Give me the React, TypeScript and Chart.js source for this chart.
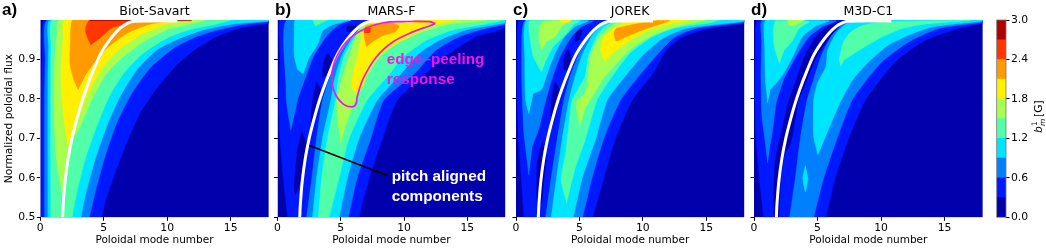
import React, { useEffect, useRef } from "react";
import { Chart, registerables } from "chart.js";

Chart.register(...registerables);

type P = [number, number];

const levelColors = ["#0000ac", "#0019ff", "#0080ff", "#00e5ff", "#50ffa8", "#a8ff50", "#fff000", "#ff9a00", "#ff3600", "#b20000"];
const colorbarLevels = [0.3, 0.3, 0.3, 0.3, 0.3, 0.3, 0.3, 0.3, 0.3, 0.3];
const colorbarTicks = [0, 0.6, 1.2, 1.8, 2.4, 3.0];
const modeTicks = [0, 5, 10, 15];
const fluxTicks = [0.5, 0.6, 0.7, 0.8, 0.9];
const panelTitles = ["Biot-Savart", "MARS-F", "JOREK", "M3D-C1"];

const fullField: P[] = [[0, 0.5], [18, 0.5], [18, 1], [0, 1]];

const resonance: P[] = [[1.76, 0.5], [1.8, 0.53], [1.95, 0.59], [2.2, 0.65], [2.5, 0.7], [2.81, 0.74], [3.2, 0.785], [3.6, 0.824], [4.15, 0.87], [4.7, 0.911], [5.3, 0.942], [5.88, 0.966], [6.4, 0.982], [6.9, 0.992], [7.4, 0.997], [8.5, 0.9978], [10.8, 0.9978]];

// Panel a: Biot-Savart
const a1: P[] = [[0.08, 0.5], [0.08, 0.8], [0.15, 0.9], [0.34, 1], [18, 1], [18, 0.9916], [15.73, 0.979], [13.9, 0.958], [12.32, 0.928], [10.74, 0.886], [9.17, 0.827], [7.85, 0.764], [6.8, 0.688], [5.88, 0.611], [5.23, 0.552], [4.83, 0.5]];
const a2: P[] = [[0.34, 0.5], [0.34, 0.8], [0.4, 0.9], [0.6, 1], [18, 1], [18, 0.996], [16.26, 0.99], [14.16, 0.976], [12.32, 0.958], [10.48, 0.928], [8.64, 0.878], [7.2, 0.814], [6.01, 0.738], [5.1, 0.654], [4.31, 0.561], [3.86, 0.5]];
const a3: P[] = [[0.6, 0.5], [0.6, 0.85], [0.65, 0.93], [0.79, 1], [18, 1], [18, 0.9975], [15.2, 0.99], [12.85, 0.975], [11, 0.954], [9.17, 0.924], [7.59, 0.873], [6.28, 0.806], [5.23, 0.73], [4.31, 0.645], [3.52, 0.552], [3.2, 0.5]];
const a4: P[] = [[0.84, 0.5], [0.82, 0.83], [0.85, 0.93], [1.0, 1], [15, 1], [13.9, 0.99], [11.8, 0.976], [9.96, 0.954], [8.12, 0.916], [6.67, 0.869], [5.49, 0.81], [4.44, 0.73], [3.52, 0.645], [2.92, 0.569], [2.5, 0.5]];
const a5: P[] = [[1.75, 0.56], [1.5, 0.6], [1.25, 0.65], [1.13, 0.72], [1.07, 0.8], [1.13, 0.9], [1.3, 0.96], [1.5, 1], [13, 1], [12.06, 0.9916], [9.96, 0.975], [8.12, 0.945], [6.54, 0.907], [5.23, 0.865], [4.18, 0.806], [3.13, 0.73], [2.34, 0.68], [1.95, 0.59]];
const a6: P[] = [[2.2, 0.68], [1.95, 0.73], [1.7, 0.8], [1.63, 0.87], [1.8, 0.95], [1.95, 1], [11.3, 1], [9.69, 0.987], [7.85, 0.962], [6.15, 0.924], [4.96, 0.882], [3.91, 0.823], [2.81, 0.738]];
const a7: P[] = [[2.99, 0.824], [2.65, 0.848], [2.34, 0.89], [2.39, 0.95], [2.6, 1], [10.2, 1], [8.38, 0.987], [6.8, 0.966], [5.23, 0.928], [4.31, 0.894], [3.65, 0.865]];
const a8: P[] = [[3.97, 0.937], [3.6, 0.966], [3.58, 0.98], [3.9, 1], [7.33, 0.998], [5.62, 0.979], [4.7, 0.954]];
const a9: P[] = [[3.9, 1], [11.9, 1], [11.9, 0.9985], [3.9, 0.9985]];

// Panel b: MARS-F
const b1: P[] = [[0.8, 0.5], [0.46, 0.6], [0.2, 0.7], [0.1, 0.797], [0.2, 0.9], [0.2, 1], [18, 1], [17.9, 0.979], [15.7, 0.958], [13.6, 0.916], [12, 0.873], [9.47, 0.797], [8.3, 0.7], [7.24, 0.599], [6.45, 0.5]];
const bDark1: P[] = [[1.93, 0.719], [1.59, 0.67], [1.33, 0.586], [1.4, 0.557], [1.77, 0.586], [2.1, 0.654], [2.3, 0.687]];
const bDark2: P[] = [[3.1, 0.845], [2.8, 0.8], [2.65, 0.74], [2.85, 0.735], [3.2, 0.78], [3.5, 0.82]];
const bDark3: P[] = [[3.55, 0.855], [3.6, 0.885], [3.95, 0.915], [4.3, 0.9], [4.0, 0.86]];
const bDark4: P[] = [[5.5, 0.97], [5.5, 0.985], [6.2, 0.985], [6.1, 0.97]];
const b2Left: P[] = [[1.06, 0.72], [0.72, 0.79], [0.67, 0.833], [0.72, 1], [5.6, 1], [4.8, 0.987], [3.9, 0.96], [2.84, 0.907], [2.05, 0.84], [1.6, 0.8], [1.35, 0.76]];
const b3Left: P[] = [[2.04, 0.863], [1.6, 0.875], [1.33, 0.91], [1.33, 0.98], [1.4, 1], [5.8, 1], [4.35, 0.988], [3.56, 0.972], [3.2, 0.94], [2.5, 0.905]];
const b4Left: P[] = [[2.8, 1], [3, 0.985], [3.4, 0.992], [4, 1]];
const b2Right: P[] = [[2.3, 0.5], [2.72, 0.6], [3.09, 0.7], [3.56, 0.797], [4.3, 0.87], [5.0, 0.92], [5.8, 0.96], [6.8, 0.99], [7.6, 1], [18, 1], [18, 0.99], [16.5, 0.979], [14.4, 0.958], [12.55, 0.924], [10.85, 0.865], [8.4, 0.797], [7.37, 0.7], [6.3, 0.6], [5.6, 0.5]];
const b3Right: P[] = [[2.77, 0.5], [3.09, 0.6], [3.56, 0.7], [4.22, 0.797], [4.5, 0.85], [5.1, 0.91], [6, 0.96], [7, 0.99], [7.8, 1], [18, 1], [18, 0.993], [14.9, 0.975], [12.8, 0.949], [11.2, 0.916], [9.8, 0.865], [7.9, 0.797], [6.45, 0.7], [5.53, 0.6], [4.87, 0.5]];
const b4Right: P[] = [[3.24, 0.5], [3.5, 0.6], [3.95, 0.7], [4.6, 0.797], [4.8, 0.85], [5.3, 0.91], [6.2, 0.96], [7.1, 0.985], [8, 1], [18, 1], [16.5, 0.99], [13.87, 0.975], [11.77, 0.949], [9.93, 0.907], [8.9, 0.865], [7.1, 0.797], [5.66, 0.7], [4.87, 0.6], [4.08, 0.5]];
const b5: P[] = [[5.02, 0.688], [4.74, 0.746], [4.7, 0.797], [5.07, 0.848], [6, 0.941], [6.5, 0.979], [7.5, 1], [16.5, 1], [15.7, 0.996], [13.6, 0.99], [11.5, 0.97], [9.67, 0.945], [8.09, 0.907], [7.04, 0.856], [6.3, 0.806], [5.8, 0.77], [5.35, 0.73]];
const b6: P[] = [[5.85, 0.825], [5.95, 0.86], [6.35, 0.91], [6.65, 0.96], [7, 0.985], [7.5, 1], [14, 1], [13.1, 0.993], [11.8, 0.983], [10.45, 0.958], [8.9, 0.932], [7.4, 0.89], [6.76, 0.833], [6.3, 0.815]];
const b7: P[] = [[7.03, 0.932], [6.84, 0.96], [7, 0.985], [7.8, 0.99], [9, 0.993], [9.6, 0.985], [9.3, 0.97], [8.3, 0.96], [7.76, 0.95]];
const b8: P[] = [[6.85, 0.967], [6.9, 0.98], [7.37, 0.98], [7.3, 0.967]];
const peeling: P[] = [[12.48, 0.991], [12, 0.996], [9.93, 0.996], [8.35, 0.993], [7, 0.979], [5.73, 0.954], [4.68, 0.907], [4.28, 0.856], [4.54, 0.814], [5.2, 0.787], [5.86, 0.78], [6.2, 0.787], [6.3, 0.806], [6.78, 0.852], [7.83, 0.907], [9.14, 0.945], [10.7, 0.97], [12, 0.985], [12.48, 0.991]];
const pitchPointer: P[] = [[2.52, 0.682], [8.67, 0.606]];

// Panel c: JOREK
const c1: P[] = [[0.63, 0.5], [0.42, 0.6], [0.2, 0.7], [0.1, 0.8], [0.1, 0.9], [0.3, 1], [18, 1], [18, 0.992], [15.3, 0.979], [13.2, 0.958], [11.87, 0.924], [10.8, 0.865], [9.17, 0.797], [7.85, 0.7], [6.93, 0.6], [6.07, 0.5]];
const cDark1: P[] = [[2.07, 0.692], [1.68, 0.637], [1.63, 0.56], [1.73, 0.527], [1.99, 0.535], [2.2, 0.595], [2.42, 0.654]];
const cDark2: P[] = [[3.1, 0.845], [2.8, 0.8], [2.75, 0.75], [2.85, 0.73], [3.2, 0.77], [3.5, 0.82]];
const cDark3: P[] = [[3.75, 0.875], [3.8, 0.9], [4.1, 0.925], [4.35, 0.9], [4.1, 0.87]];
const cDark4: P[] = [[4.65, 0.945], [4.75, 0.97], [5.15, 0.975], [5.05, 0.95]];
const c2Left: P[] = [[1.02, 0.607], [0.63, 0.713], [0.5, 0.797], [0.45, 0.9], [0.76, 1], [6.1, 0.998], [5.17, 0.983], [4.39, 0.958], [3.47, 0.907], [2.81, 0.848], [2.3, 0.79], [1.8, 0.725], [1.29, 0.68]];
const c3Left: P[] = [[1.02, 0.762], [0.76, 0.797], [0.7, 0.9], [0.85, 1], [5.7, 0.998], [4.65, 0.983], [3.86, 0.958], [3.2, 0.924], [2.55, 0.873], [2.0, 0.823], [1.37, 0.814]];
const c4Left: P[] = [[2.02, 0.869], [1.37, 0.907], [1.05, 0.966], [1.1, 0.998], [5.04, 0.998], [4.5, 0.987], [4, 0.966], [2.94, 0.932], [2.4, 0.9]];
const c5Left: P[] = [[2.02, 0.924], [1.84, 0.949], [1.84, 0.975], [2.15, 0.996], [4.12, 0.998], [3.6, 0.983], [3.07, 0.958], [2.42, 0.945]];
const c6Left: P[] = [[3.47, 1], [3.6, 0.993], [4.2, 0.995], [4.4, 1]];
const c2Right: P[] = [[2.34, 0.5], [2.78, 0.6], [3.26, 0.7], [3.78, 0.797], [4.2, 0.85], [4.9, 0.91], [5.7, 0.96], [6.6, 0.99], [7.4, 1], [18, 1], [18, 0.995], [14.2, 0.979], [12.4, 0.954], [11.35, 0.92], [10, 0.87], [8.25, 0.797], [6.93, 0.7], [6.0, 0.6], [5.25, 0.5]];
const c3Right: P[] = [[2.78, 0.5], [3.2, 0.6], [3.65, 0.7], [4.18, 0.797], [4.6, 0.85], [5.2, 0.91], [6, 0.96], [6.9, 0.99], [7.7, 1], [18, 1], [18, 0.997], [13.45, 0.979], [11.6, 0.954], [10, 0.911], [8.7, 0.861], [7.2, 0.797], [6.3, 0.7], [5.23, 0.6], [4.52, 0.5]];
const c4Right: P[] = [[4, 0.535], [3.57, 0.595], [3.9, 0.66], [4.2, 0.74], [4.44, 0.797], [5.44, 0.856], [5.7, 0.907], [6.36, 0.958], [7, 0.983], [7.9, 0.996], [16, 1], [15.3, 0.993], [12.4, 0.979], [10.56, 0.954], [8.98, 0.916], [7.67, 0.861], [6.4, 0.797], [5.49, 0.7], [4.7, 0.628], [4.44, 0.595]];
const c5Right: P[] = [[5.04, 0.73], [4.8, 0.772], [4.83, 0.797], [5.44, 0.814], [5.7, 0.856], [5.83, 0.907], [6.6, 0.958], [7.3, 0.979], [8.2, 0.996], [15, 1], [14.5, 0.996], [12.66, 0.983], [10.8, 0.962], [9.25, 0.932], [7.93, 0.89], [6.9, 0.852], [6.1, 0.81], [5.5, 0.78]];
const c6Right: P[] = [[7, 0.896], [6.67, 0.924], [6.9, 0.954], [7.54, 0.975], [8.46, 0.992], [8.8, 1], [13.6, 1], [12.66, 0.993], [10.8, 0.979], [9.25, 0.954], [7.93, 0.924]];
const c7Right: P[] = [[7.88, 0.947], [7.72, 0.966], [7.93, 0.979], [9.5, 0.99], [11.1, 0.998], [12.1, 0.998], [11.6, 0.992], [10, 0.975], [8.72, 0.958], [8.0, 0.947]];

// Panel d: M3D-C1
const d1: P[] = [[0.76, 0.5], [0.42, 0.6], [0.16, 0.7], [0.08, 0.8], [0.1, 0.9], [0.3, 1], [18, 1], [18, 0.992], [16.18, 0.979], [13.5, 0.949], [11.3, 0.9], [10.1, 0.855], [8.77, 0.797], [7.46, 0.7], [6.4, 0.6], [5.67, 0.5]];
const dDark: P[] = [[1.6, 0.5], [1.55, 0.57], [1.7, 0.65], [2.2, 0.72], [2.7, 0.79], [3.3, 0.844], [3.97, 0.907], [4.9, 0.958], [5.8, 0.983], [6.86, 0.998], [7.4, 0.998], [6.7, 0.983], [6.0, 0.958], [4.9, 0.907], [4.1, 0.844], [3.5, 0.797], [3.3, 0.76], [2.9, 0.69], [2.4, 0.66], [2.1, 0.6], [1.95, 0.5]];
const d2Left: P[] = [[1.08, 0.637], [0.85, 0.7], [0.63, 0.755], [0.55, 0.85], [0.6, 0.95], [0.66, 1], [6.46, 0.998], [5.4, 0.983], [4.36, 0.958], [3.3, 0.907], [2.35, 0.85], [1.75, 0.79], [1.5, 0.73], [1.29, 0.687]];
const d3Left: P[] = [[1.08, 0.789], [0.9, 0.85], [0.85, 0.93], [0.95, 1], [5.9, 0.998], [4.9, 0.985], [3.83, 0.958], [3.05, 0.907], [2.26, 0.861], [1.86, 0.844], [1.3, 0.825]];
const d4Left: P[] = [[2.0, 0.89], [1.6, 0.932], [1.52, 0.975], [1.73, 0.998], [4.36, 0.996], [3.57, 0.979], [3.05, 0.949], [2.4, 0.924]];
const d5Left: P[] = [[2.65, 1], [2.7, 0.99], [2.95, 0.985], [3.5, 0.992], [4.0, 1]];
const d2Right: P[] = [[2.81, 0.5], [3.26, 0.6], [3.65, 0.7], [4.18, 0.797], [4.7, 0.85], [5.3, 0.91], [6.1, 0.96], [7, 0.99], [7.6, 1], [18, 1], [18, 0.995], [14.6, 0.979], [12.2, 0.945], [10.1, 0.895], [8.9, 0.85], [7.72, 0.797], [6.54, 0.7], [5.49, 0.6], [4.7, 0.5]];
const d3Right: P[] = [[5.04, 0.658], [4.7, 0.704], [4.7, 0.797], [5.0, 0.84], [5.67, 0.882], [5.8, 0.924], [6.46, 0.966], [7.25, 0.99], [8.3, 1], [18, 1], [17.9, 0.997], [14.08, 0.983], [12.2, 0.962], [10.5, 0.935], [8.9, 0.89], [7.8, 0.85], [6.88, 0.797], [6.28, 0.755], [5.75, 0.713]];
const d4Right: P[] = [[6.86, 0.882], [6.72, 0.899], [7, 0.941], [7.5, 0.966], [8.3, 0.983], [9.88, 0.995], [17, 0.999], [16.2, 0.997], [13.55, 0.99], [11.7, 0.979], [9.88, 0.954], [8.3, 0.924], [7.1, 0.899]];
const dBlob: P[] = [[4.05, 0.632], [3.84, 0.599], [4.05, 0.565], [4.26, 0.599]];

type Layer = { pts: P[]; level: number };
const panelLayers: Layer[][] = [
  [{ pts: fullField, level: 0 }, { pts: a1, level: 1 }, { pts: a2, level: 2 }, { pts: a3, level: 3 }, { pts: a4, level: 4 }, { pts: a5, level: 5 }, { pts: a6, level: 6 }, { pts: a7, level: 7 }, { pts: a8, level: 8 }, { pts: a9, level: 9 }],
  [{ pts: fullField, level: 0 }, { pts: b1, level: 1 }, { pts: bDark1, level: 0 }, { pts: bDark2, level: 0 }, { pts: bDark3, level: 0 }, { pts: bDark4, level: 0 }, { pts: b2Left, level: 2 }, { pts: b2Right, level: 2 }, { pts: b3Left, level: 3 }, { pts: b3Right, level: 3 }, { pts: b4Left, level: 4 }, { pts: b4Right, level: 4 }, { pts: b5, level: 5 }, { pts: b6, level: 6 }, { pts: b7, level: 7 }, { pts: b8, level: 8 }],
  [{ pts: fullField, level: 0 }, { pts: c1, level: 1 }, { pts: cDark1, level: 0 }, { pts: cDark2, level: 0 }, { pts: cDark3, level: 0 }, { pts: cDark4, level: 0 }, { pts: c2Left, level: 2 }, { pts: c2Right, level: 2 }, { pts: c3Left, level: 3 }, { pts: c3Right, level: 3 }, { pts: c4Left, level: 4 }, { pts: c4Right, level: 4 }, { pts: c5Left, level: 5 }, { pts: c5Right, level: 5 }, { pts: c6Left, level: 6 }, { pts: c6Right, level: 6 }, { pts: c7Right, level: 7 }],
  [{ pts: fullField, level: 0 }, { pts: d1, level: 1 }, { pts: dDark, level: 0 }, { pts: d2Left, level: 2 }, { pts: d2Right, level: 2 }, { pts: dBlob, level: 3 }, { pts: d3Left, level: 3 }, { pts: d3Right, level: 3 }, { pts: d4Left, level: 4 }, { pts: d4Right, level: 4 }, { pts: d5Left, level: 5 }],
];

const SANS = "'DejaVu Sans', sans-serif";
const ARIAL = "'Liberation Sans', Arial, sans-serif";
const MAGENTA = "#f414e4";
const H = 249;
const TOP = 20;
const BOTTOM = 217.3;

type Frame = { canvasX: number; canvasW: number; left: number; right: number; letter: string; letterX: number };
const frames: Frame[] = [
  { canvasX: 0, canvasW: 272, left: 40.3, right: 268.7, letter: "a)", letterX: 2 },
  { canvasX: 271, canvasW: 239, left: 277.5, right: 505.3, letter: "b)", letterX: 275 },
  { canvasX: 510, canvasW: 238, left: 516, right: 744.3, letter: "c)", letterX: 513 },
  { canvasX: 748, canvasW: 238, left: 754, right: 982.7, letter: "d)", letterX: 751 },
];

type Note = { text: string; x: number; y: number; font: string; color: string };

const notesPlugin = {
  id: "notes",
  afterDraw(chart: any, _a: any, opts: any) {
    const { ctx } = chart;
    for (const n of (opts.items || []) as Note[]) {
      ctx.save();
      ctx.font = n.font;
      ctx.fillStyle = n.color;
      ctx.textBaseline = "alphabetic";
      ctx.textAlign = "left";
      ctx.fillText(n.text, n.x, n.y);
      ctx.restore();
    }
  },
};

function xy(p: P[]) {
  return p.map(([x, y]) => ({ x, y }));
}

function panelConfig(i: number): any {
  const f = frames[i];
  const yWidth = f.left - f.canvasX;
  const datasets: any[] = panelLayers[i].map((l) => ({
    data: xy(l.pts),
    showLine: true,
    pointRadius: 0,
    fill: "shape",
    backgroundColor: levelColors[l.level],
    borderColor: levelColors[l.level],
    borderWidth: 0.5,
    tension: 0.2,
  }));
  datasets.push({ data: xy(resonance), showLine: true, pointRadius: 0, fill: false, borderColor: "#ffffff", borderWidth: 3, tension: 0.3 });
  if (i === 1) {
    datasets.push({ data: xy(peeling), showLine: true, pointRadius: 0, fill: false, borderColor: MAGENTA, borderWidth: 1.7, tension: 0.35 });
    datasets.push({ data: xy(pitchPointer), showLine: true, pointRadius: 0, fill: false, borderColor: "#000000", borderWidth: 1.5, tension: 0 });
  }
  datasets.reverse();
  const notes: Note[] = [{ text: f.letter, x: f.letterX - f.canvasX, y: 15, font: `bold 17px ${ARIAL}`, color: "#000" }];
  if (i === 1) {
    const nf = `bold 15.3px ${ARIAL}`;
    notes.push({ text: "edge\u2013peeling", x: 386.7 - f.canvasX, y: 63.5, font: nf, color: MAGENTA });
    notes.push({ text: "response", x: 386.7 - f.canvasX, y: 83.5, font: nf, color: MAGENTA });
    notes.push({ text: "pitch aligned", x: 391.7 - f.canvasX, y: 181, font: nf, color: "#ffffff" });
    notes.push({ text: "components", x: 391.7 - f.canvasX, y: 200.5, font: nf, color: "#ffffff" });
  }
  return {
    type: "scatter",
    data: { datasets },
    plugins: [notesPlugin],
    options: {
      animation: false,
      responsive: false,
      layout: { padding: { left: 0, right: f.canvasX + f.canvasW - f.right, top: 0, bottom: 0 } },
      plugins: {
        legend: { display: false },
        tooltip: { enabled: false },
        title: { display: true, fullSize: false, text: panelTitles[i], color: "#000", font: { family: SANS, size: 12.6, weight: "normal" }, padding: { top: 3.9, bottom: 1 } },
        notes: { items: notes },
      },
      scales: {
        x: {
          type: "linear",
          min: 0,
          max: 18,
          afterBuildTicks: (s: any) => { s.ticks = modeTicks.map((value) => ({ value })); },
          afterFit: (s: any) => { s.height = H - BOTTOM; },
          border: { display: false },
          grid: { drawOnChartArea: false, drawTicks: true, tickLength: 3.5, color: "#000" },
          ticks: { color: "#000", font: { family: SANS, size: 10.8 }, padding: 1, maxRotation: 0, autoSkip: false },
          title: { display: true, text: "Poloidal mode number", color: "#000", font: { family: SANS, size: 10.5 }, padding: { top: 0, bottom: 2 } },
        },
        y: {
          type: "linear",
          min: 0.5,
          max: 1,
          afterBuildTicks: (s: any) => { s.ticks = fluxTicks.map((value) => ({ value })); },
          afterFit: (s: any) => { s.width = yWidth; },
          border: { display: false },
          grid: { drawOnChartArea: false, drawTicks: true, tickLength: 3.5, color: "#000" },
          ticks: { color: "#000", font: { family: SANS, size: 10.8 }, padding: 1.5, autoSkip: false, display: i === 0, callback: (v: number) => v.toFixed(1) },
          title: { display: i === 0, text: "Normalized poloidal flux", color: "#000", font: { family: SANS, size: 10.7 }, padding: { top: 2.5, bottom: 0 } },
        },
      },
    },
  };
}

const colorbarLabelPlugin = {
  id: "cbLabel",
  afterDraw(chart: any) {
    const { ctx, chartArea: a } = chart;
    ctx.save();
    ctx.strokeStyle = "#777";
    ctx.lineWidth = 0.8;
    ctx.strokeRect(a.left, a.top, a.right - a.left, a.bottom - a.top);
    ctx.translate(52, 133);
    ctx.rotate(-Math.PI / 2);
    ctx.fillStyle = "#000";
    ctx.textBaseline = "alphabetic";
    ctx.font = `italic 10.7px ${SANS}`;
    ctx.fillText("b", 0, 0);
    ctx.font = `7.5px ${SANS}`;
    ctx.fillText("1", 7, -4.8);
    ctx.font = `italic 7.5px ${SANS}`;
    ctx.fillText("m", 7, 2.5);
    ctx.font = `10.7px ${SANS}`;
    ctx.fillText("[G]", 16, 0);
    ctx.restore();
  },
};

function colorbarConfig(): any {
  return {
    type: "bar",
    data: {
      labels: ["b"],
      datasets: colorbarLevels.map((v, i) => ({ data: [v], backgroundColor: levelColors[i], barPercentage: 1, categoryPercentage: 1, borderWidth: 0 })),
    },
    plugins: [colorbarLabelPlugin],
    options: {
      animation: false,
      responsive: false,
      layout: { padding: { left: 6.7, top: TOP, bottom: H - BOTTOM, right: 0 } },
      plugins: { legend: { display: false }, tooltip: { enabled: false } },
      scales: {
        x: { stacked: true, display: false },
        y: {
          stacked: true,
          position: "right",
          min: 0,
          max: 3,
          afterBuildTicks: (s: any) => { s.ticks = colorbarTicks.map((value) => ({ value })); },
          afterFit: (s: any) => { s.width = 40; },
          border: { display: false },
          grid: { drawOnChartArea: false, drawTicks: true, tickLength: 3.5, color: "#000" },
          ticks: { color: "#000", font: { family: SANS, size: 10.8 }, padding: 1.5, callback: (v: number) => v.toFixed(1) },
        },
      },
    },
  };
}

export default function App() {
  const refs = useRef<(HTMLCanvasElement | null)[]>([]);
  useEffect(() => {
    const charts = [
      ...frames.map((_, i) => new Chart(refs.current[i] as HTMLCanvasElement, panelConfig(i))),
      new Chart(refs.current[4] as HTMLCanvasElement, colorbarConfig()),
    ];
    return () => charts.forEach((c) => c.destroy());
  }, []);
  const boxes = [...frames.map((f) => ({ x: f.canvasX, w: f.canvasW })), { x: 990, w: 56 }];
  return (
    <div style={{ position: "absolute", left: 0, top: 0, width: 1046, height: H, overflow: "hidden", background: "#fff" }}>
      {boxes.map((b, i) => (
        <canvas
          key={i}
          ref={(el) => { refs.current[i] = el; }}
          width={b.w}
          height={H}
          style={{ position: "absolute", left: b.x, top: 0, width: b.w, height: H }}
        />
      ))}
    </div>
  );
}
